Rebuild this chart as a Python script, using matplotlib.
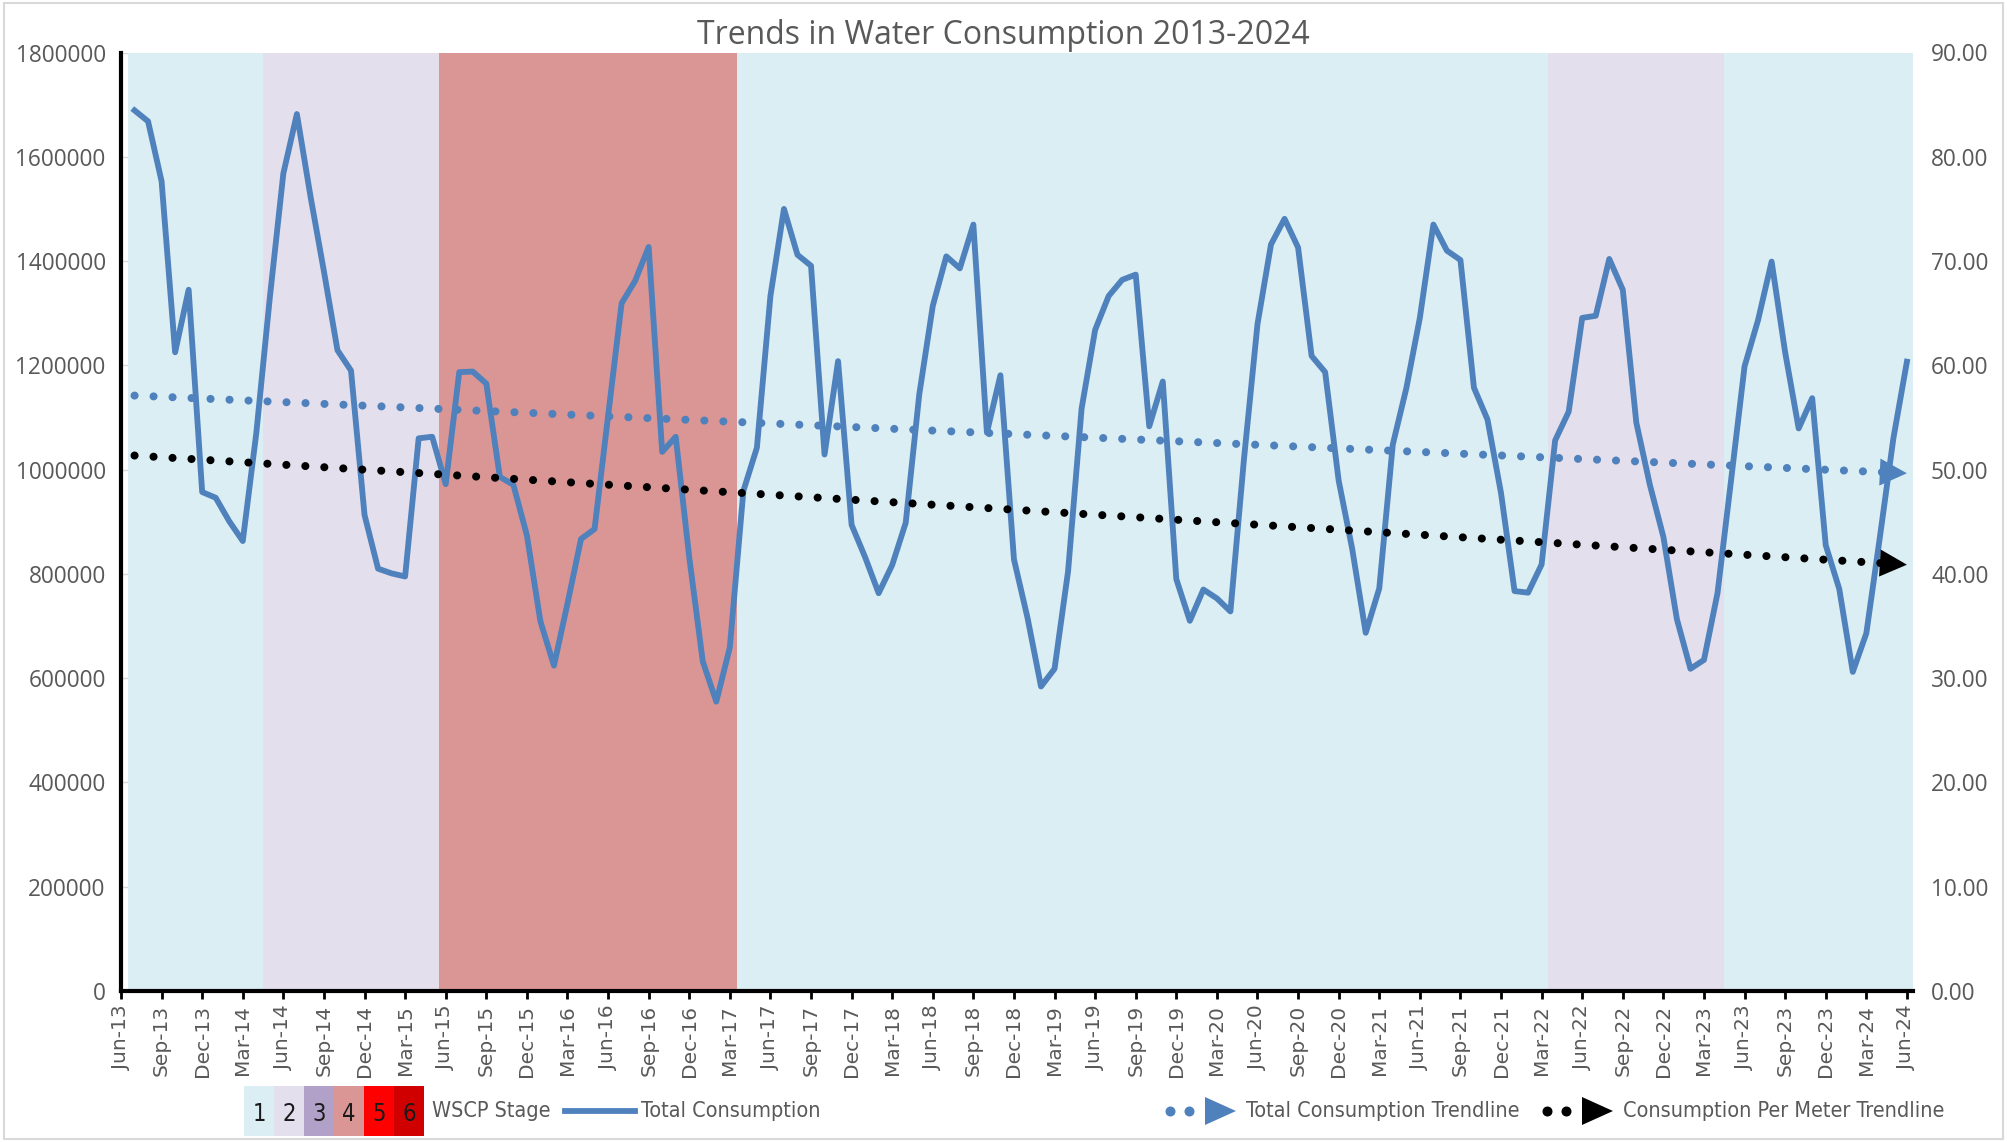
import numpy as np
import pandas as pd
import matplotlib
matplotlib.use('Agg')
import matplotlib.pyplot as plt
from matplotlib.patches import Rectangle, Polygon
from matplotlib.lines import Line2D
from matplotlib import font_manager

# monthly total consumption, Jul-13 .. Jun-24
total_consumption = [
    1689000, 1668000, 1553000, 1225000, 1345000, 957000, 946000, 901000, 863000, 1070000,
    1330000, 1568000, 1682000, 1525000, 1380000, 1229000, 1190000, 913000, 810000, 801000,
    795000, 1060000, 1063000, 972000, 1187000, 1188000, 1165000, 986000, 971000, 874000,
    709000, 624000, 743000, 867000, 886000, 1102000, 1319000, 1362000, 1427000, 1034000,
    1063000, 832000, 632000, 555000, 659000, 959000, 1042000, 1333000, 1500000, 1412000,
    1391000, 1029000, 1208000, 894000, 832000, 763000, 817000, 898000, 1144000, 1314000,
    1409000, 1386000, 1470000, 1071000, 1181000, 828000, 716000, 584000, 618000, 805000,
    1117000, 1268000, 1333000, 1364000, 1374000, 1083000, 1169000, 790000, 710000, 770000,
    753000, 728000, 1020000, 1279000, 1432000, 1481000, 1426000, 1218000, 1187000, 979000,
    848000, 687000, 772000, 1048000, 1156000, 1291000, 1470000, 1420000, 1402000, 1157000,
    1096000, 955000, 767000, 764000, 818000, 1056000, 1111000, 1291000, 1295000, 1404000,
    1345000, 1090000, 971000, 871000, 713000, 618000, 635000, 763000, 979000, 1198000,
    1287000, 1399000, 1225000, 1079000, 1137000, 855000, 771000, 612000, 686000, 870000,
    1060000, 1207000,
]

# WSCP stage in force: (stage, number of months) starting Jul-13
stage_runs = [(1, 10), (2, 13), (4, 22), (1, 60), (2, 13), (1, 14)]
stage_colors = {1: '#DAEEF3', 2: '#E4DFEC', 3: '#B1A0C7', 4: '#DA9694', 5: '#FF0000', 6: '#D00000'}

# trendline values at first and last month
total_trend = [1142000, 993000]
per_meter_trend = [51.35, 40.88]

tick_labels = list(pd.date_range('2013-06-01', '2024-06-01', freq='3MS').strftime('%b-%y'))
left_ticks = list(range(0, 1800001, 200000))
right_ticks = list(range(0, 91, 10))

W, H = 2007, 1142
BLUE = '#4F81BD'
GREY = '#595959'

fonts = font_manager.fontManager.ttflist
names = {f.name for f in fonts}
if 'Liberation Sans Narrow' in names:
    leg_font, leg_stretch, leg_size = 'Liberation Sans Narrow', 'normal', 18.5
elif any(f.name == 'DejaVu Sans' and f.stretch == 'condensed' for f in fonts):
    leg_font, leg_stretch, leg_size = 'DejaVu Sans', 'condensed', 15.5
else:
    leg_font, leg_stretch, leg_size = 'DejaVu Sans', 'normal', 13.8


def fx(p):
    return p / W


def fy(p):
    return 1 - p / H


x = np.arange(1, len(total_consumption) + 1)
stages = np.repeat([s for s, n in stage_runs], [n for s, n in stage_runs])

fig = plt.figure(figsize=(W / 100, H / 100), dpi=100)
ax = fig.add_axes([fx(121), fy(991), (1913 - 121) / W, (991 - 52.5) / H])

ax.bar(x, 1800000, width=1.0, color=[stage_colors[s] for s in stages], linewidth=0, zorder=1)
ax.plot(x, total_consumption, color=BLUE, lw=4.2, zorder=3)

ax.set_xlim(0, 132.45)
ax.set_ylim(0, 1800000)
ax.set_yticks(left_ticks)
ax.set_yticklabels([str(v) for v in left_ticks], fontfamily='Open Sans')
ax.set_xticks(np.arange(0, 133, 3))
ax.set_xticklabels(tick_labels, rotation=90, fontfamily='DejaVu Sans')
ax.grid(axis='y', color='#D9D9D9', lw=1)
ax.set_axisbelow(True)
for s in ['top', 'right']:
    ax.spines[s].set_visible(False)
for s in ['left', 'bottom']:
    ax.spines[s].set_color('black')
    ax.spines[s].set_linewidth(3)
ax.tick_params(axis='y', length=0, pad=11, labelsize=16.3, labelcolor=GREY)
ax.tick_params(axis='x', length=6, width=2, color='black', pad=4, labelsize=14.5, labelcolor=GREY)

ax2 = ax.twinx()
ax2.set_ylim(0, 90)
ax2.set_yticks(right_ticks)
ax2.set_yticklabels([f'{v:.2f}' for v in right_ticks], fontfamily='Open Sans')
for s in ax2.spines.values():
    s.set_visible(False)
ax2.tick_params(axis='y', length=0, pad=13, labelsize=16.3, labelcolor=GREY)

# trendlines, dotted with an arrow head at the end
dots = dict(lw=5.8, linestyle=(0, (0.01, 2.35)), dash_capstyle='round', zorder=4)
head = dict(arrowstyle='-|>,head_length=1.0,head_width=0.5', mutation_scale=19.5, lw=0,
            shrinkA=0, shrinkB=0)
xs = [1, 132]
x_base = 130.4
ax2.plot([1, x_base], [total_trend[0], np.interp(x_base, xs, total_trend)],
         color=BLUE, transform=ax.transData, **dots)
ax2.annotate('', xy=(132, total_trend[1]), xycoords=ax.transData,
             xytext=(130.5, np.interp(130.5, xs, total_trend)), textcoords=ax.transData,
             arrowprops=dict(color=BLUE, **head))
ax2.plot([1, x_base], [per_meter_trend[0], np.interp(x_base, xs, per_meter_trend)],
         color='black', **dots)
ax2.annotate('', xy=(132, per_meter_trend[1]),
             xytext=(130.5, np.interp(130.5, xs, per_meter_trend)),
             arrowprops=dict(color='black', **head))

fig.text(0.5, fy(35), 'Trends in Water Consumption 2013-2024', ha='center', va='center',
         fontsize=23, color=GREY, fontfamily='Open Sans')

# legend, drawn by hand
ly = 1111
txt = dict(va='center', fontsize=leg_size, fontfamily=leg_font, fontstretch=leg_stretch)
for k in range(6):
    fig.add_artist(Rectangle((fx(244 + 30 * k), fy(1136)), 30 / W, 50 / H,
                             transform=fig.transFigure, color=stage_colors[k + 1], lw=0))
    fig.text(fx(259 + 30 * k), fy(ly + 3), str(k + 1), ha='center', color='#1A1A1A',
             **{**txt, 'fontsize': leg_size + 1.5})
fig.text(fx(432), fy(ly), 'WSCP Stage', ha='left', color=GREY, **txt)
fig.add_artist(Line2D([fx(565), fx(635)], [fy(ly), fy(ly)], color=BLUE, lw=4.2,
                      transform=fig.transFigure))
fig.text(fx(641), fy(ly), 'Total Consumption', ha='left', color=GREY, **txt)

for x0, col, label in [(1170, BLUE, 'Total Consumption Trendline'),
                       (1547, 'black', 'Consumption Per Meter Trendline')]:
    fig.add_artist(Line2D([fx(x0), fx(x0 + 19)], [fy(ly), fy(ly)], color=col, lw=0,
                          marker='o', markersize=6.2, transform=fig.transFigure))
    fig.add_artist(Polygon([(fx(x0 + 35), fy(ly - 14)), (fx(x0 + 35), fy(ly + 14)),
                            (fx(x0 + 66), fy(ly))], closed=True, color=col, lw=0,
                           transform=fig.transFigure))
    fig.text(fx(x0 + 76), fy(ly), label, ha='left', color=GREY, **txt)

fig.add_artist(Rectangle((0.002, 0.003), 0.996, 0.994, transform=fig.transFigure,
                         fill=False, edgecolor='#D9D9D9', lw=1.5))

fig.savefig('out.png', dpi=100)
